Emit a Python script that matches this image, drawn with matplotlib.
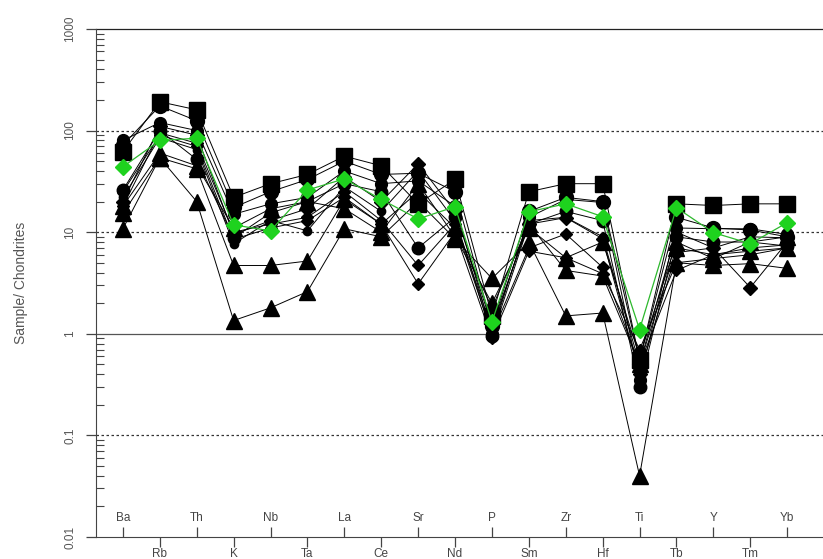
import numpy as np
import matplotlib
matplotlib.use("Agg")
import matplotlib.pyplot as plt
from matplotlib.ticker import LogLocator, FixedLocator, FixedFormatter, NullFormatter

plt.rcParams['font.family'] = ['Liberation Sans', 'DejaVu Sans']

# element order for the spider diagram
elements = ['Ba', 'Rb', 'Th', 'K', 'Nb', 'Ta', 'La', 'Ce', 'Sr', 'Nd',
            'P', 'Sm', 'Zr', 'Hf', 'Ti', 'Tb', 'Y', 'Tm', 'Yb']

# chondrite-normalised values, one list per sample
sq1 = [62, 192, 160, 22, 30, 37, 56, 45, 19, 33, 1.5, 25, 30, 30, 0.55, 19, 18.3, 19, 19]
ci0 = [72, 175, 125, 17.5, 25, 33, 50, 37, 38, 25, 1.2, 16, 22, 20, 0.55, 14, 11, 10.5, 9]
ci1 = [80, 120, 100, 15, 19, 22, 40, 30, 32, 18, 1.0, 14, 21, 19.6, 0.35, 11, 10.8, 10.8, 9.5]
ci2 = [26, 100, 52, 8.8, 15.5, 20, 30, 25, 7.0, 14, 0.95, 12, 16, 13, 0.3, 9, 8, 8, 7.3]
ci3 = [22, 85, 65, 7.7, 13, 10.3, 28, 16, 40, 12.9, 1.1, 13, 14, 9, 0.5, 10, 7, 9, 8.8]
di1 = [20, 110, 90, 9.5, 13, 17, 35, 20, 47, 16, 1.2, 12, 13.9, 8.6, 0.4, 6.3, 7, 2.85, 8]
di2 = [18, 95, 75, 10, 12, 14, 25, 13, 4.7, 12, 1.0, 7, 9.6, 4.5, 0.5, 4.2, 6, 7, 7.5]
di3 = [25, 90, 70, 8.5, 11, 13, 22, 12, 3.1, 10, 0.9, 6.5, 5.6, 3.9, 0.7, 5, 5.5, 6, 7]
tr1 = [10.8, 54, 20, 1.35, 1.8, 2.6, 10.8, 9, 20, 8.6, 3.5, 8, 1.5, 1.6, 0.04, 5, 4.7, 4.9, 4.4]
tr2 = [15.3, 54, 42, 4.7, 4.7, 5.2, 21, 12, 25, 11, 1.8, 12, 4.2, 3.7, 0.5, 7, 6, 6.5, 7]
tr3 = [18, 60, 45, 11, 17, 20, 17, 10, 30, 9, 2.0, 11, 5.6, 8, 0.6, 8, 5.5, 8, 9]
mean = [44, 80, 84, 11.8, 10.3, 26, 33.5, 21, 13.5, 17.8, 1.31, 15.9, 19, 14.2, 1.1, 17.4, 9.9, 7.7, 12.4]

samples = [
    (sq1, 's', 11), (ci0, 'o', 10),
    (ci1, 'o', 8.5), (ci2, 'o', 9), (ci3, 'o', 6),
    (di1, 'D', 7), (di2, 'D', 6.5), (di3, 'D', 6.5),
    (tr1, '^', 12), (tr2, '^', 12), (tr3, '^', 11),
]

grid_levels = [1000, 100, 10, 1, 0.1]
grid_styles = ['-', (0, (2, 2)), (0, (2, 2)), '-', (0, (2, 2))]
grid_colors = ['#222222', '#333333', '#333333', '#555555', '#333333']

fig = plt.figure(figsize=(8.23, 5.59), dpi=100)
ax = fig.add_axes([0.1166, 0.0394, 0.8834, 0.9088])

x = np.arange(len(elements))

for lvl, ls, c in zip(grid_levels, grid_styles, grid_colors):
    ax.axhline(lvl, color=c, ls=ls, lw=0.9, zorder=1, clip_on=False)

for vals, m, ms in samples:
    ax.plot(x, vals, color='black', lw=0.7, marker=m, ms=ms,
            mfc='black', mec='black', zorder=3)

ax.plot(x, mean, color='#2db82d', lw=0.9, marker='D', ms=8,
        mfc='#1ed21e', mec='#1ed21e', zorder=5)

ax.set_yscale('log')
ax.set_ylim(0.01, 1000)
ax.set_xlim(-0.73, 18.97)

for s in ['top', 'right']:
    ax.spines[s].set_visible(False)
ax.spines['left'].set_color('#444444')
ax.spines['bottom'].set_color('#444444')

# y axis: labelled decades outside, minor ticks inside
ax.yaxis.set_major_locator(FixedLocator([0.01, 0.1, 1, 10, 100, 1000]))
ax.yaxis.set_major_formatter(FixedFormatter(['0.01', '0.1', '1', '10', '100', '1000']))
ax.yaxis.set_minor_locator(LogLocator(base=10, subs=np.arange(2, 10)))
ax.yaxis.set_minor_formatter(NullFormatter())
ax.tick_params(axis='y', which='major', direction='out', length=7, width=0.9,
               color='#444444', labelcolor='#555555', labelsize=8.5, pad=7)
ax.tick_params(axis='y', which='minor', direction='in', length=5.5, width=0.8,
               color='#444444')
for lab in ax.get_yticklabels():
    lab.set_rotation(90)
    lab.set_va('center')

# x axis: alternating rows of element names
ax.set_xticks(x[::2], labels=elements[::2])
ax.set_xticks(x[1::2], labels=elements[1::2], minor=True)
ax.tick_params(axis='x', which='major', direction='in', length=7, width=0.9,
               color='#444444', labelcolor='#444444', labelsize=8.5, pad=-18)
ax.tick_params(axis='x', which='minor', direction='out', length=7, width=0.9,
               color='#444444', labelcolor='#444444', labelsize=8.5, pad=1)

ax.set_ylabel('Sample/ Chondrites', color='#555555', fontsize=10, labelpad=26)

fig.savefig('out.png', dpi=100)
